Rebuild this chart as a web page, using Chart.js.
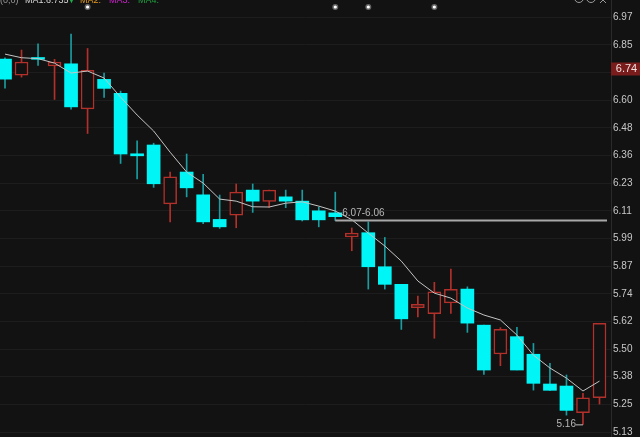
<!DOCTYPE html>
<html>
<head>
<meta charset="utf-8">
<script src="https://cdn.jsdelivr.net/npm/chart.js@4.4.1/dist/chart.umd.min.js"></script>
<style>
  html, body { margin: 0; padding: 0; background: #121212; }
  #wrap { width: 640px; height: 437px; position: relative; }
</style>
</head>
<body>
<div id="wrap"><canvas id="kline"></canvas></div>
<script>
// daily candles (left to right)
var opens  = [6.784, 6.713, 6.791, 6.754, 6.763, 6.563, 6.694, 6.632, 6.364, 6.403, 6.142, 6.283, 6.182, 6.073, 6.092, 6.203, 6.153, 6.173, 6.154, 6.111, 6.102, 5.995, 6.014, 5.863, 5.785, 5.681, 5.655, 5.703, 5.764, 5.604, 5.476, 5.553, 5.475, 5.343, 5.334, 5.216, 5.282];
var highs  = [6.790, 6.824, 6.852, 6.783, 6.895, 6.831, 6.722, 6.642, 6.422, 6.411, 6.283, 6.363, 6.273, 6.181, 6.230, 6.230, 6.203, 6.203, 6.203, 6.128, 6.194, 6.035, 6.062, 5.993, 5.785, 5.733, 5.794, 5.853, 5.774, 5.604, 5.593, 5.594, 5.523, 5.435, 5.383, 5.302, 5.612];
var lows   = [6.655, 6.704, 6.756, 6.605, 6.562, 6.454, 6.614, 6.321, 6.252, 6.215, 6.062, 6.173, 6.054, 6.033, 6.036, 6.104, 6.126, 6.125, 6.066, 6.040, 6.068, 5.934, 5.764, 5.764, 5.585, 5.641, 5.546, 5.656, 5.572, 5.386, 5.424, 5.405, 5.316, 5.315, 5.205, 5.164, 5.254];
var closes = [6.695, 6.771, 6.783, 6.771, 6.572, 6.734, 6.654, 6.363, 6.355, 6.231, 6.262, 6.213, 6.062, 6.040, 6.194, 6.154, 6.203, 6.154, 6.071, 6.071, 6.085, 6.012, 5.863, 5.785, 5.632, 5.696, 5.752, 5.763, 5.613, 5.405, 5.585, 5.405, 5.346, 5.315, 5.226, 5.282, 5.612];
var ma1    = [6.806, 6.790, 6.786, 6.766, 6.722, 6.731, 6.700, 6.615, 6.536, 6.465, 6.371, 6.283, 6.234, 6.163, 6.154, 6.129, 6.128, 6.145, 6.151, 6.132, 6.110, 6.072, 6.012, 5.955, 5.888, 5.800, 5.746, 5.724, 5.680, 5.649, 5.627, 5.560, 5.471, 5.414, 5.369, 5.312, 5.356];

// right axis
var tickValues = [5.13, 5.253, 5.376, 5.498, 5.621, 5.743, 5.866, 5.989, 6.111, 6.234, 6.357, 6.479, 6.602, 6.725, 6.847, 6.97];
var markerIdx = [5, 20, 22, 26];   // little event dots on top
var lastPrice = 6.74;
var levelIdx = 20, levelValue = 6.068, levelText = '6.07-6.06';
var lowIdx = 35, lowText = '5.16';

var RED = '#b3302b', CYAN = '#00f6f6', CYAN_WICK = '#1a9ca0', BG = '#121212';

var isUp = opens.map(function (o, i) { return closes[i] >= o; });
var wickData = highs.map(function (h, i) { return { x: i, y: [lows[i], h] }; });
var bodyData = opens.map(function (o, i) { return { x: i, y: [o, closes[i]] }; });
var maData = ma1.map(function (v, i) { return { x: i, y: v }; });

var overlay = {
    id: 'overlay',
    beforeDraw: function (chart) {
        var c = chart.ctx;
        c.save();
        c.fillStyle = BG;
        c.fillRect(0, 0, chart.width, chart.height);
        c.restore();
    },
    afterDraw: function (chart) {
        var c = chart.ctx, xs = chart.scales.x, ys = chart.scales.y;
        c.save();

        // clipped legend line at the very top
        c.font = '9px "Liberation Sans", sans-serif';
        c.textBaseline = 'alphabetic';
        var legend = [['(0,0)', '#9a9a9a', 0], ['MA1:6.735', '#d8d8d8', 25], ['\u25BC', '#19b04a', 67], ['MA2:', '#e09a20', 80], ['MA3:', '#d020d0', 109], ['MA4:', '#20a040', 138]];
        legend.forEach(function (l) { c.fillStyle = l[1]; c.fillText(l[0], l[2], 2.5); });

        // top right icons (mostly cut off)
        c.strokeStyle = '#9a9a9a'; c.lineWidth = 1;
        [579, 591].forEach(function (x) { c.beginPath(); c.arc(x, -2, 4.5, 0, Math.PI * 2); c.stroke(); });
        c.beginPath(); c.moveTo(600, -3); c.lineTo(606, 3); c.moveTo(606, -3); c.lineTo(600, 3); c.stroke();

        // event dots
        markerIdx.forEach(function (i) {
            var x = xs.getPixelForValue(i);
            c.fillStyle = 'rgba(255,255,255,0.35)';
            c.beginPath(); c.arc(x, 7, 3, 0, Math.PI * 2); c.fill();
            c.fillStyle = '#ffffff';
            c.beginPath(); c.arc(x, 7, 1.6, 0, Math.PI * 2); c.fill();
        });

        // level line with its label
        var lx = xs.getPixelForValue(levelIdx), ly = ys.getPixelForValue(levelValue);
        c.strokeStyle = '#a8a8a8'; c.lineWidth = 2;
        c.beginPath(); c.moveTo(lx, ly); c.lineTo(607, ly); c.stroke();
        c.fillStyle = '#b8b8b8';
        c.font = '10px "Liberation Sans", sans-serif';
        c.textBaseline = 'middle';
        c.fillText(levelText, lx + 7, ly - 7);

        // lowest price mark
        var px = xs.getPixelForValue(lowIdx), py = ys.getPixelForValue(lows[lowIdx]);
        c.strokeStyle = '#c0c0c0'; c.lineWidth = 1;
        c.beginPath(); c.moveTo(px - 7, py + 0.5); c.lineTo(px, py + 0.5); c.stroke();
        c.textAlign = 'right';
        c.fillText(lowText, px - 7, py);

        // current price box on the axis
        var by = ys.getPixelForValue(lastPrice);
        c.fillStyle = '#7a1c1c';
        c.fillRect(chart.chartArea.right, by - 6.5, chart.width - chart.chartArea.right, 13);
        c.fillStyle = '#f0e0e0';
        c.textAlign = 'center';
        c.font = '11px "Liberation Sans", sans-serif';
        c.fillText(lastPrice.toFixed(2), 626.5, by);
        c.restore();
    }
};

new Chart(document.getElementById('kline'), {
    type: 'bar',
    data: {
        datasets: [{
            label: 'wick',
            data: wickData,
            backgroundColor: isUp.map(function (u) { return u ? RED : CYAN_WICK; }),
            barThickness: 1,
            grouped: false,
            order: 3
        }, {
            label: 'body',
            data: bodyData,
            backgroundColor: isUp.map(function (u) { return u ? BG : CYAN; }),
            borderColor: isUp.map(function (u) { return u ? RED : CYAN; }),
            borderWidth: isUp.map(function (u) { return u ? 1.5 : 0; }),
            borderSkipped: false,
            barThickness: 13,
            grouped: false,
            order: 2
        }, {
            type: 'line',
            label: 'MA1',
            data: maData,
            borderColor: '#c4c4c4',
            borderWidth: 1,
            pointRadius: 0,
            tension: 0,
            order: 1
        }]
    },
    options: {
        responsive: true,
        maintainAspectRatio: false,
        animation: false,
        layout: { padding: 0, autoPadding: false },
        plugins: { legend: { display: false }, tooltip: { enabled: false } },
        scales: {
            x: {
                type: 'linear',
                display: false,
                offset: false,
                min: -0.303,
                max: 36.697
            },
            y: {
                position: 'right',
                min: 5.108,
                max: 7.046,
                afterBuildTicks: function (scale) {
                    scale.ticks = tickValues.map(function (v) { return { value: v }; });
                },
                afterFit: function (scale) {
                    scale.width = 29;
                    scale.paddingTop = 0;
                    scale.paddingBottom = 0;
                },
                grid: { color: '#1d1d1d', drawTicks: false },
                border: { display: true, color: '#2a2a2a' },
                ticks: {
                    color: '#c8c8c8',
                    padding: 2,
                    font: { family: '"Liberation Sans", sans-serif', size: 10 },
                    callback: function (v) { return Number(v).toFixed(2); }
                }
            }
        }
    },
    plugins: [overlay]
});
</script>
</body>
</html>
